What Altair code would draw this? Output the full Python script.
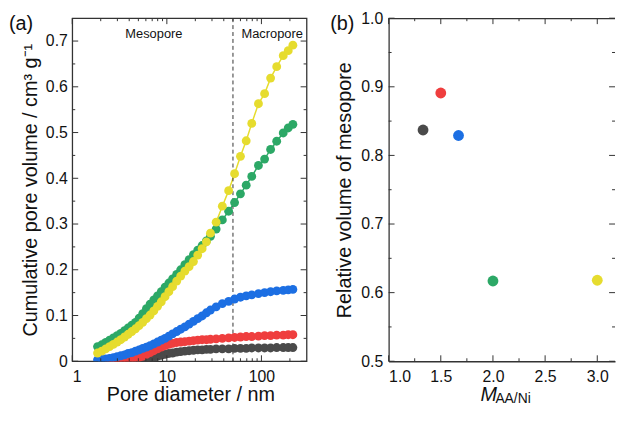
import altair as alt
import pandas as pd

FONT = "Liberation Sans"
INK = "#111111"
FRAME = "#333333"

# ---------------- panel (a): cumulative pore volume ----------------
pore_diameter_nm = [1.85, 2.05, 2.26, 2.48, 2.72, 2.98, 3.26, 3.57, 3.90, 4.26,
                    4.66, 5.09, 5.56, 6.08, 6.65, 7.28, 7.97, 8.73, 9.57, 10.5,
                    11.5, 12.7, 14.0, 15.5, 17.2, 19.1, 21.2, 23.6, 26.2, 28.9,
                    33.2, 38.6, 45.0, 52.0, 60.0, 69.0, 79.0, 93.0, 108, 125,
                    145, 170, 192, 215]

vol_m133 = [None, None, None, None, None, None, None, None, None, 0.000,
            0.000, 0.001, 0.002, 0.004, 0.006, 0.008, 0.011, 0.013, 0.015, 0.017,
            0.018, 0.020, 0.021, 0.022, 0.023, 0.024, 0.025, 0.025, 0.026, 0.026,
            0.027, 0.027, 0.027, 0.028, 0.028, 0.028, 0.029, 0.029, 0.029, 0.029,
            0.030, 0.030, 0.030, 0.030]
vol_m150 = [None, None, None, 0.000, 0.000, 0.000, 0.000, 0.000, 0.001, 0.003,
            0.005, 0.008, 0.011, 0.015, 0.019, 0.023, 0.027, 0.031, 0.034, 0.037,
            0.039, 0.041, 0.042, 0.043, 0.044, 0.045, 0.046, 0.047, 0.047, 0.048,
            0.049, 0.050, 0.051, 0.052, 0.053, 0.054, 0.054, 0.055, 0.056, 0.056,
            0.057, 0.057, 0.058, 0.058]
vol_m167 = [0.003, 0.004, 0.005, 0.006, 0.008, 0.010, 0.012, 0.014, 0.017, 0.019,
            0.022, 0.025, 0.028, 0.031, 0.034, 0.038, 0.042, 0.046, 0.050, 0.055,
            0.060, 0.065, 0.070, 0.075, 0.081, 0.087, 0.093, 0.099, 0.106, 0.112,
            0.119, 0.126, 0.131, 0.136, 0.140, 0.143, 0.145, 0.148, 0.150, 0.152,
            0.154, 0.155, 0.156, 0.157]
vol_m200 = [0.032, 0.036, 0.041, 0.046, 0.051, 0.056, 0.061, 0.067, 0.073, 0.079,
            0.085, 0.094, 0.104, 0.115, 0.125, 0.134, 0.143, 0.152, 0.162, 0.171,
            0.180, 0.190, 0.200, 0.211, 0.222, 0.233, 0.243, 0.253, 0.263, 0.273,
            0.289, 0.309, 0.328, 0.347, 0.366, 0.385, 0.404, 0.428, 0.442, 0.463,
            0.481, 0.499, 0.510, 0.518]
vol_m300 = [0.018, 0.022, 0.027, 0.032, 0.037, 0.042, 0.047, 0.053, 0.059, 0.065,
            0.071, 0.078, 0.085, 0.093, 0.101, 0.110, 0.120, 0.130, 0.141, 0.152,
            0.163, 0.175, 0.186, 0.197, 0.207, 0.218, 0.232, 0.246, 0.261, 0.280,
            0.304, 0.339, 0.373, 0.410, 0.448, 0.482, 0.520, 0.563, 0.585, 0.619,
            0.644, 0.668, 0.679, 0.691]

series_names = ["1.33", "1.5", "1.67", "2.0", "3.0"]
colors_a = ["#4a4a4a", "#ef3e3e", "#1c6fe3", "#2ca866", "#e6dc2e"]

boundary_nm = [50]
region_names = ["Mesopore", "Macropore"]
region_x_nm = [7.3, 130]

# ---------------- panel (b): relative mesopore volume ----------------
m_aa_ni = [1.33, 1.5, 1.67, 2.0, 3.0]
rel_mesopore = [0.837, 0.891, 0.829, 0.617, 0.618]
colors_b = ["#4a4a4a", "#f23c3c", "#2046f2", "#2ea868", "#e8dc2e"]

panel_tags = ["(a)", "(b)"]

# tick values
a_x_major = [1, 10, 100]
a_x_minor = [2, 3, 4, 5, 6, 7, 8, 9, 20, 30, 40, 50, 60, 70, 80, 90, 200]
a_y_major = [0, 0.1, 0.2, 0.3, 0.4, 0.5, 0.6, 0.7]
a_y_minor = [0.05, 0.15, 0.25, 0.35, 0.45, 0.55, 0.65]
b_x_major = [1.0, 1.5, 2.0, 2.5, 3.0]
b_x_minor = [1.25, 1.75, 2.25, 2.75]
b_y_major = [0.5, 0.6, 0.7, 0.8, 0.9, 1.0]
b_y_minor = [0.55, 0.65, 0.75, 0.85, 0.95]

WA, HA = 237, 347
WB, HB = 229, 347


def tick_layers(X, Y, xmaj, xmin, ymaj, ymin, W, H):
    """Inward-pointing tick marks on all four sides, placed through the scales."""
    layers = []
    for vals, L in [(xmaj, 6), (xmin, 3)]:
        base = alt.Chart(pd.DataFrame({"t": vals})).mark_rule(color=FRAME, strokeWidth=1)
        layers.append(base.encode(x=X("t:Q"), y=alt.value(H), y2=alt.value(H - L)))
        layers.append(base.encode(x=X("t:Q"), y=alt.value(0), y2=alt.value(L)))
    for vals, L in [(ymaj, 6), (ymin, 3)]:
        base = alt.Chart(pd.DataFrame({"t": vals})).mark_rule(color=FRAME, strokeWidth=1)
        layers.append(base.encode(y=Y("t:Q"), x=alt.value(0), x2=alt.value(L)))
        layers.append(base.encode(y=Y("t:Q"), x=alt.value(W), x2=alt.value(W - L)))
    return layers


# ---------- panel (a) ----------
rows = []
for name, vals in zip(series_names, [vol_m133, vol_m150, vol_m167, vol_m200, vol_m300]):
    for d, v in zip(pore_diameter_nm, vals):
        if v is not None:
            rows.append({"d": d, "v": v, "s": name})
dfa = pd.DataFrame(rows)

xa = alt.Scale(type="log", domain=[1, 300], nice=False)
ya = alt.Scale(domain=[0, 0.75], nice=False, zero=False)
ca = alt.Scale(domain=series_names, range=colors_a)

axis_xa = alt.Axis(values=a_x_major, format=".0f", title="Pore diameter / nm",
                   titleX=119.5, titleY=40, titleAlign="center", titleBaseline="alphabetic",
                   labelPadding=7, ticks=False, tickSize=0, domain=False)
axis_ya = alt.Axis(values=a_y_major,
                   labelExpr="datum.value == 0 ? '0' : format(datum.value, '.1f')",
                   title="Cumulative pore volume / cm³ g⁻¹",
                   titleX=-36, titleY=HA / 2, titleAngle=270, titleAlign="center",
                   titleBaseline="alphabetic", labelPadding=5, ticks=False, tickSize=0,
                   domain=False)


def XA(f):
    return alt.X(f, scale=xa, axis=axis_xa)


def YA(f):
    return alt.Y(f, scale=ya, axis=axis_ya)


lines_a = alt.Chart(dfa).mark_line(strokeWidth=1.5, clip=True).encode(
    x=XA("d:Q"), y=YA("v:Q"), color=alt.Color("s:N", scale=ca, legend=None))
dash_a = alt.Chart(pd.DataFrame({"b": boundary_nm})).mark_rule(
    color=FRAME, strokeWidth=1, strokeDash=[4, 3]).encode(x=XA("b:Q"))
points_a = alt.Chart(dfa).mark_circle(size=80, opacity=1, clip=True).encode(
    x=XA("d:Q"), y=YA("v:Q"), color=alt.Color("s:N", scale=ca, legend=None))
regions_a = alt.Chart(pd.DataFrame({"name": region_names, "rx": region_x_nm})).mark_text(
    font=FONT, fontSize=13, color=INK, align="center", baseline="alphabetic").encode(
    x=XA("rx:Q"), y=alt.value(20), text="name:N")
tag_a = alt.Chart(pd.DataFrame({"t": [panel_tags[0]]})).mark_text(
    font=FONT, fontSize=20, color=INK, align="left", baseline="alphabetic").encode(
    x=alt.value(-64), y=alt.value(12), text="t:N")

panel_a = alt.layer(lines_a, dash_a, points_a,
                    *tick_layers(XA, YA, a_x_major, a_x_minor, a_y_major, a_y_minor, WA, HA),
                    regions_a, tag_a).properties(width=WA, height=HA)

# ---------- panel (b) ----------
dfb = pd.DataFrame({"m": m_aa_ni, "r": rel_mesopore, "s": series_names})
xb = alt.Scale(domain=[1.0, 3.17], nice=False, zero=False)
yb = alt.Scale(domain=[0.5, 1.0], nice=False, zero=False)
cb = alt.Scale(domain=series_names, range=colors_b)

axis_xb = alt.Axis(values=b_x_major, format=".1f", title=None, labelPadding=7,
                   ticks=False, tickSize=0, domain=True, domainColor=FRAME, domainWidth=1.3)
axis_yb = alt.Axis(values=b_y_major, format=".1f", title="Relative volume of mesopore",
                   titleX=-38.5, titleY=HB / 2, titleAngle=270, titleAlign="center",
                   titleBaseline="alphabetic", labelPadding=6, ticks=False, tickSize=0,
                   domain=True, domainColor=FRAME, domainWidth=1.3)


def XB(f):
    return alt.X(f, scale=xb, axis=axis_xb)


def YB(f):
    return alt.Y(f, scale=yb, axis=axis_yb)


points_b = alt.Chart(dfb).mark_circle(size=120, opacity=1).encode(
    x=XB("m:Q"), y=YB("r:Q"), color=alt.Color("s:N", scale=cb, legend=None))
top_b = alt.Chart(pd.DataFrame({"k": [0]})).mark_rule(color=FRAME, strokeWidth=1.3).encode(
    x=alt.value(0), x2=alt.value(WB), y=alt.value(0.5))
tag_b = alt.Chart(pd.DataFrame({"t": [panel_tags[1]]})).mark_text(
    font=FONT, fontSize=20, color=INK, align="left", baseline="alphabetic").encode(
    x=alt.value(-59), y=alt.value(12), text="t:N")
xtitle_main = alt.Chart(pd.DataFrame({"t": ["M"]})).mark_text(
    font=FONT, fontSize=20, fontStyle="italic", color=INK, align="left",
    baseline="alphabetic").encode(x=alt.value(93), y=alt.value(387), text="t:N")
xtitle_sub = alt.Chart(pd.DataFrame({"t": ["AA/Ni"]})).mark_text(
    font=FONT, fontSize=14, color=INK, align="left",
    baseline="alphabetic").encode(x=alt.value(108), y=alt.value(389.5), text="t:N")

panel_b = alt.layer(points_b,
                    *tick_layers(XB, YB, b_x_major, b_x_minor, b_y_major, b_y_minor, WB, HB),
                    top_b, tag_b, xtitle_main, xtitle_sub).properties(
    width=WB, height=HB, view=alt.ViewBackground(stroke=None))

chart = alt.hconcat(panel_a, panel_b, spacing=83, bounds="flush").properties(
    padding={"left": 0, "top": 0, "right": 0, "bottom": 0}
).configure_view(stroke=FRAME, strokeWidth=1.3).configure_axis(
    labelFont=FONT, titleFont=FONT, labelFontSize=16, titleFontSize=20,
    titleFontWeight="normal", labelColor=INK, titleColor=INK, grid=False
)

chart.save("out.html", embed_options={"renderer": "svg", "actions": False})
